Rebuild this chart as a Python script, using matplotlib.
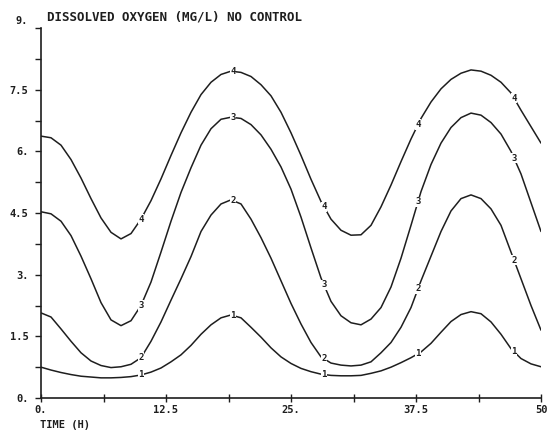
import matplotlib
matplotlib.use("Agg")
import matplotlib.pyplot as plt
import matplotlib.transforms as mtransforms
import numpy as np

# time (h), hourly readings
time_h = list(range(0, 51))

# dissolved oxygen (mg/L) for curves 1..4
curve1 = [0.75, 0.68, 0.62, 0.57, 0.53, 0.51, 0.49, 0.49, 0.50, 0.52,
          0.56, 0.63, 0.73, 0.88, 1.05, 1.28, 1.55, 1.78, 1.95, 2.02,
          1.95, 1.72, 1.48, 1.22, 1.00, 0.84, 0.72, 0.64, 0.58, 0.55,
          0.54, 0.54, 0.55, 0.60, 0.66, 0.75, 0.86, 0.98, 1.12, 1.33,
          1.60, 1.86, 2.03, 2.10, 2.05, 1.85, 1.55, 1.20, 0.96, 0.83,
          0.76]
curve2 = [2.07, 1.97, 1.68, 1.38, 1.10, 0.90, 0.79, 0.74, 0.76, 0.82,
          0.98, 1.38, 1.85, 2.38, 2.90, 3.44, 4.05, 4.45, 4.72, 4.82,
          4.72, 4.35, 3.90, 3.40, 2.85, 2.30, 1.80, 1.35, 1.00, 0.85,
          0.80, 0.78, 0.80, 0.88, 1.10, 1.35, 1.72, 2.20, 2.85, 3.45,
          4.05, 4.55, 4.85, 4.94, 4.85, 4.60, 4.20, 3.55, 2.90, 2.25,
          1.65]
curve3 = [4.53, 4.48, 4.30, 3.95, 3.45, 2.90, 2.32, 1.90, 1.76, 1.88,
          2.25, 2.82, 3.55, 4.30, 5.00, 5.60, 6.15, 6.55, 6.78, 6.83,
          6.80, 6.65, 6.40, 6.05, 5.62, 5.08, 4.40, 3.65, 2.92, 2.35,
          2.00, 1.83, 1.78, 1.92, 2.20, 2.70, 3.40, 4.20, 5.02, 5.68,
          6.20, 6.58, 6.82, 6.93, 6.88, 6.70, 6.42, 6.00, 5.45, 4.75,
          4.05]
curve4 = [6.37, 6.33, 6.15, 5.80, 5.35, 4.85, 4.38, 4.03, 3.87, 4.00,
          4.35, 4.80, 5.33, 5.90, 6.45, 6.95, 7.38, 7.68, 7.87, 7.95,
          7.92, 7.82, 7.62, 7.35, 6.95, 6.45, 5.90, 5.32, 4.78, 4.35,
          4.08, 3.96, 3.97, 4.20, 4.65, 5.18, 5.75, 6.30, 6.80, 7.20,
          7.52, 7.75, 7.90, 7.98, 7.95, 7.85, 7.68, 7.42, 7.00, 6.60,
          6.20]
curve_names = ["1", "2", "3", "4"]
label_times = [10.0, 19.2, 28.3, 37.7, 47.3]

x_ticks = [0, 12.5, 25, 37.5, 50]
x_ticklabels = ["0.", "12.5", "25.", "37.5", "50"]
y_ticks = [0, 1.5, 3, 4.5, 6, 7.5, 9]
y_ticklabels = ["0.", "1.5", "3.", "4.5", "6.", "7.5", "9."]

title = "DISSOLVED OXYGEN (MG/L) NO CONTROL"
xlabel = "TIME (H)"

ink = "#1e1e1e"
font = "DejaVu Sans Mono"

fig = plt.figure(figsize=(5.48, 4.34), dpi=100)
ax = fig.add_axes([41 / 548, 36 / 434, 500 / 548, 370 / 434])

for name, vals in zip(curve_names, [curve1, curve2, curve3, curve4]):
    ax.plot(time_h, vals, color=ink, lw=1.1, solid_joinstyle="round",
            solid_capstyle="round")
    for lt in label_times:
        v = np.interp(lt, time_h, vals)
        ax.text(lt, v, name, ha="center", va="center", fontsize=6.5,
                family=font, fontweight="bold", color=ink,
                bbox=dict(boxstyle="square,pad=0.08", fc="white", ec="none"))

ax.set_xlim(0, 50)
ax.set_ylim(0, 9)
for s in ["top", "right"]:
    ax.spines[s].set_visible(False)
for s in ["left", "bottom"]:
    ax.spines[s].set_color(ink)
    ax.spines[s].set_linewidth(1.2)

ax.set_xticks(x_ticks)
ax.set_xticklabels(x_ticklabels)
ax.set_xticks([6.25, 18.75, 31.25, 43.75], minor=True)
ax.set_yticks(y_ticks)
ax.set_yticklabels(y_ticklabels)
ax.set_yticks([0.75, 2.25, 3.75, 5.25, 6.75, 8.25], minor=True)

ax.tick_params(axis="x", which="both", direction="inout", length=6, width=1.0,
               color=ink, pad=2)
ax.tick_params(axis="y", which="both", direction="out", length=4, width=1.0,
               color=ink, pad=5)
for lab in ax.get_xticklabels() + ax.get_yticklabels():
    lab.set_family(font)
    lab.set_fontweight("bold")
    lab.set_fontsize(7.5)
    lab.set_color(ink)

# the top "9." label sits on the title line in the original
top_lab = ax.get_yticklabels()[-1]
top_lab.set_transform(top_lab.get_transform() +
                      mtransforms.ScaledTranslation(0, 8 / 100, fig.dpi_scale_trans))

fig.text(47 / 548, 1 - 17 / 434, title, ha="left", va="center", family=font,
         fontweight="bold", fontsize=9, color=ink)
fig.text(40 / 548, 1 - 425 / 434, xlabel, ha="left", va="center", family=font,
         fontweight="bold", fontsize=7.5, color=ink)

fig.savefig("out.png", dpi=100, facecolor="white")
